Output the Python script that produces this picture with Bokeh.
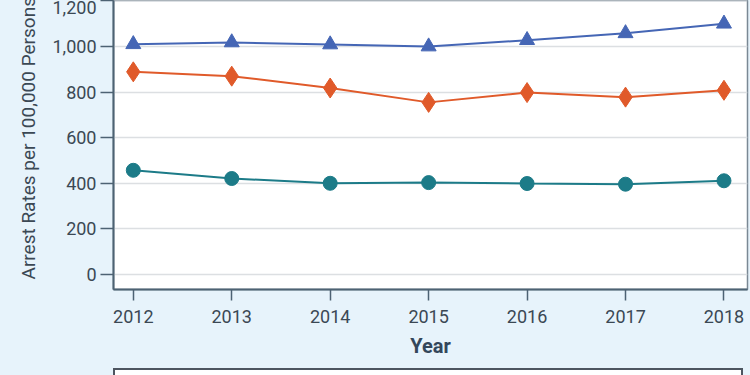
from bokeh.plotting import figure
from bokeh.models import Range1d, NumeralTickFormatter, FixedTicker, Title, Div, Column
from bokeh.embed import file_html
from bokeh.resources import INLINE

years = [2012, 2013, 2014, 2015, 2016, 2017, 2018]
series_top = [1010, 1018, 1009, 1000, 1028, 1058, 1100]
series_mid = [889, 870, 818, 755, 798, 778, 808]
series_low = [457, 421, 400, 403, 399, 396, 411]
y_ticks = [0, 200, 400, 600, 800, 1000, 1200]
y_title = "Arrest Rates per 100,000 Persons"
x_title = "Year"

FONT = "Roboto"
BG = "#e7f3fb"
TXT = "#3b4854"
AX = "#4d6273"

p = figure(width=750, height=368, output_backend="svg", toolbar_location=None,
           x_range=Range1d(2011.799, 2018.239), y_range=Range1d(-66, 1202),
           min_border_left=113, min_border_right=3, min_border_top=0, min_border_bottom=79,
           frame_width=634, frame_height=289)
p.background_fill_color = "white"
p.border_fill_color = BG
p.outline_line_color = "#7a8894"
p.outline_line_width = 1.5

p.xgrid.visible = False
p.ygrid.grid_line_color = "#dcdfe2"
p.ygrid.grid_line_width = 1.5

p.xaxis.ticker = FixedTicker(ticks=years)
p.yaxis.ticker = FixedTicker(ticks=y_ticks)
p.yaxis.formatter = NumeralTickFormatter(format="0,0")

for ax in (p.xaxis, p.yaxis):
    ax.axis_line_color = AX
    ax.axis_line_width = 2
    ax.major_tick_line_color = AX
    ax.major_tick_line_width = 1.5
    ax.minor_tick_line_color = None
    ax.major_tick_in = 0
    ax.major_label_text_font = FONT
    ax.major_label_text_font_size = "18px"
    ax.major_label_text_color = TXT

p.xaxis.major_tick_out = 11
p.xaxis.major_label_standoff = 9
p.yaxis.major_tick_out = 13
p.yaxis.major_label_standoff = 4

p.xaxis.axis_label = x_title
p.xaxis.axis_label_text_font = FONT
p.xaxis.axis_label_text_font_size = "20px"
p.xaxis.axis_label_text_font_style = "bold"
p.xaxis.axis_label_text_color = "#33465a"
p.xaxis.axis_label_standoff = 8

p.line(years, series_top, line_color="#4566b5", line_width=2)
p.scatter(years, series_top, marker="triangle", size=15, fill_color="#4566b5", line_color="#4566b5")
p.line(years, series_mid, line_color="#e05a2a", line_width=2)
p.scatter(years, series_mid, marker="diamond", size=20, fill_color="#e05a2a", line_color="#e05a2a")
p.line(years, series_low, line_color="#1c7b88", line_width=2)
p.scatter(years, series_low, marker="circle", size=14, fill_color="#1c7b88", line_color="#1c7b88")

p.add_layout(Title(text=y_title, align="left", offset=10, text_font=FONT,
                   text_font_size="19px", text_font_style="normal", text_color=TXT,
                   standoff=20), "left")

box = Div(text='<div style="margin-left:113px;width:630px;height:20px;background:#ffffff;'
               'border:2px solid #4d5560;border-bottom:none;"></div>',
          width=750, height=7,
          styles={"background-color": BG, "overflow": "hidden", "margin": "0", "padding": "0"})

layout = Column(children=[p, box], spacing=0, styles={"background-color": BG})

open("out.html", "w").write(file_html(layout, INLINE))
